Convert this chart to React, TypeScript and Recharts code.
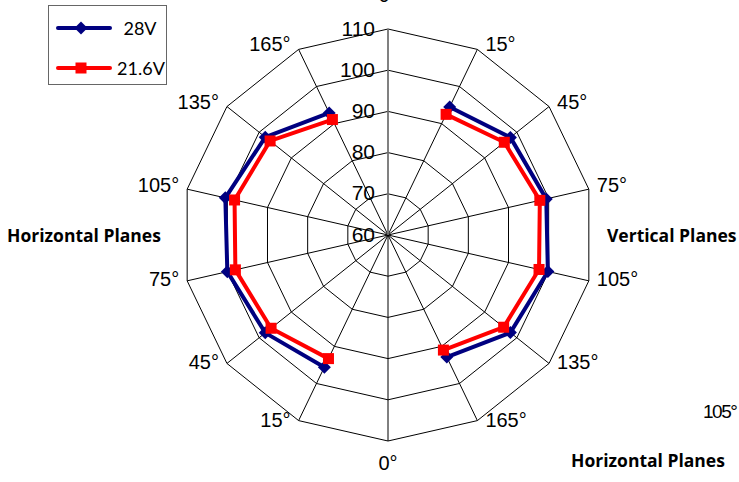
import React from 'react';
import { RadarChart, Radar, PolarGrid, PolarAngleAxis, PolarRadiusAxis } from 'recharts';

// 14 directions around the plot; the top half is one sweep, the bottom half the other
const angleLabels = ['0°', '15°', '45°', '75°', '105°', '135°', '165°', '0°', '15°', '45°', '75°', '105°', '135°', '165°'];
const v28 = [null, 94.5, 98.0, 99.4, 99.8, 98.0, 92.9, null, 95.6, 98.1, 100.0, 100.5, 98.1, 92.9];
const v216 = [null, 92.5, 96.1, 97.8, 97.6, 95.9, 91.0, null, 93.3, 96.3, 98.0, 98.2, 96.6, 91.1];
const radiusTicks = [60, 70, 80, 90, 100, 110];
const seriesNames = ['28V', '21.6V'];

const data = angleLabels.map((label, i) => ({ id: i, label, s28: v28[i], s216: v216[i] }));

const W = 739;
const H = 482;
const CX = 388;
const CY = 235;
const R = 206;
const NAVY = '#000080';
const RED = '#FF0000';
const NARROW = '"Liberation Sans Narrow", "Arial Narrow", "Liberation Sans", sans-serif';

const AngleTick = (props: any) => {
  const { payload } = props;
  const a = (payload.coordinate * Math.PI) / 180;
  const vx = CX + R * Math.cos(a);
  const vy = CY - R * Math.sin(a);
  const text = angleLabels[payload.value];
  let x = vx;
  let y = vy;
  let anchor: 'start' | 'middle' | 'end' = 'middle';
  if (Math.abs(vx - CX) < 1) {
    y = vy < CY ? vy - 34 : vy + 22;
  } else {
    anchor = vx > CX ? 'start' : 'end';
    x = vx + (vx > CX ? 8 : -8);
    y = vy - 3 + (3 * (vy - CY)) / R;
  }
  return (
    <text x={x} y={y} textAnchor={anchor} dominantBaseline="central" fontSize={20} fontFamily={NARROW} fill="#000">
      {text}
    </text>
  );
};

const RadiusTick = (props: any) => {
  const { x, y, payload } = props;
  return (
    <text x={x - 13} y={y - 1} textAnchor="end" dominantBaseline="central" fontSize={21} fontFamily={NARROW} fill="#000">
      {payload.value}
    </text>
  );
};

// draw the line in pieces, breaking where a direction has no reading
const makeShape = (key: string, color: string) => (props: any) => {
  const pts = props.points || [];
  let d = '';
  let pen = false;
  pts.forEach((p: any) => {
    const v = p.payload ? p.payload[key] : null;
    if (v == null || !isFinite(p.x) || !isFinite(p.y)) {
      pen = false;
      return;
    }
    d += `${pen ? 'L' : 'M'}${p.x},${p.y}`;
    pen = true;
  });
  return <path d={d} fill="none" stroke={color} strokeWidth={4} strokeLinejoin="miter" />;
};

const Diamond = (props: any) => {
  const { cx, cy, payload, index } = props;
  if (!payload || payload.s28 == null || !isFinite(cx) || !isFinite(cy)) return <g key={index} />;
  const s = 6.5;
  return <polygon key={index} points={`${cx},${cy - s} ${cx + s},${cy} ${cx},${cy + s} ${cx - s},${cy}`} fill={NAVY} />;
};

const Square = (props: any) => {
  const { cx, cy, payload, index } = props;
  if (!payload || payload.s216 == null || !isFinite(cx) || !isFinite(cy)) return <g key={index} />;
  const s = 5.5;
  return <rect key={index} x={cx - s} y={cy - s} width={s * 2} height={s * 2} fill={RED} />;
};

const boldLabel: React.CSSProperties = {
  position: 'absolute',
  fontFamily: '"Open Sans", Lato, sans-serif',
  fontWeight: 700,
  fontSize: 17.5,
  color: '#000',
  whiteSpace: 'nowrap',
  lineHeight: '22px',
};

export default function App() {
  return (
    <div style={{ position: 'absolute', left: 0, top: 0, width: W, height: H, background: '#fff', overflow: 'hidden' }}>
      <RadarChart width={W} height={H} data={data} cx={CX} cy={CY} outerRadius={R} margin={{ top: 0, right: 0, bottom: 0, left: 0 }}>
        <PolarGrid gridType="polygon" stroke="#000" strokeWidth={1} />
        <PolarAngleAxis dataKey="id" tick={<AngleTick />} tickLine={false} axisLine={false} />
        <PolarRadiusAxis
          angle={90}
          type="number"
          domain={[60, 110]}
          ticks={radiusTicks as any}
          tickCount={6}
          tick={<RadiusTick />}
          tickLine={false}
          axisLine={{ stroke: '#808080', strokeWidth: 1.6 }}
        />
        <Radar
          name={seriesNames[0]}
          dataKey="s28"
          stroke={NAVY}
          fill="none"
          shape={makeShape('s28', NAVY)}
          dot={<Diamond />}
          isAnimationActive={false}
        />
        <Radar
          name={seriesNames[1]}
          dataKey="s216"
          stroke={RED}
          fill="none"
          shape={makeShape('s216', RED)}
          dot={<Square />}
          isAnimationActive={false}
        />
      </RadarChart>

      <div style={{ position: 'absolute', left: 48, top: 5, width: 117, height: 78, border: '1px solid #666', background: '#fff' }}>
        <svg width={117} height={78} style={{ display: 'block' }}>
          <line x1={9} y1={22} x2={61} y2={22} stroke={NAVY} strokeWidth={4} strokeLinecap="round" />
          <polygon points="32,15.5 38.5,22 32,28.5 25.5,22" fill={NAVY} />
          <text x={91} y={22} textAnchor="middle" dominantBaseline="central" fontSize={18} fontFamily="Lato, sans-serif">
            {seriesNames[0]}
          </text>
          <line x1={9} y1={62} x2={61} y2={62} stroke={RED} strokeWidth={4} strokeLinecap="round" />
          <rect x={26.5} y={56.5} width={11} height={11} fill={RED} />
          <text x={92} y={62} textAnchor="middle" dominantBaseline="central" fontSize={18} fontFamily="Lato, sans-serif">
            {seriesNames[1]}
          </text>
        </svg>
      </div>

      <div style={{ ...boldLabel, left: 7, top: 224 }}>Horizontal Planes</div>
      <div style={{ ...boldLabel, left: 607, top: 224 }}>Vertical Planes</div>
      <div style={{ ...boldLabel, left: 571, top: 449 }}>Horizontal Planes</div>
      <div
        style={{
          position: 'absolute',
          left: 703,
          top: 401,
          fontFamily: NARROW,
          fontSize: 19,
          letterSpacing: -1.5,
          lineHeight: '22px',
          color: '#000',
        }}
      >
        105°
      </div>
    </div>
  );
}
